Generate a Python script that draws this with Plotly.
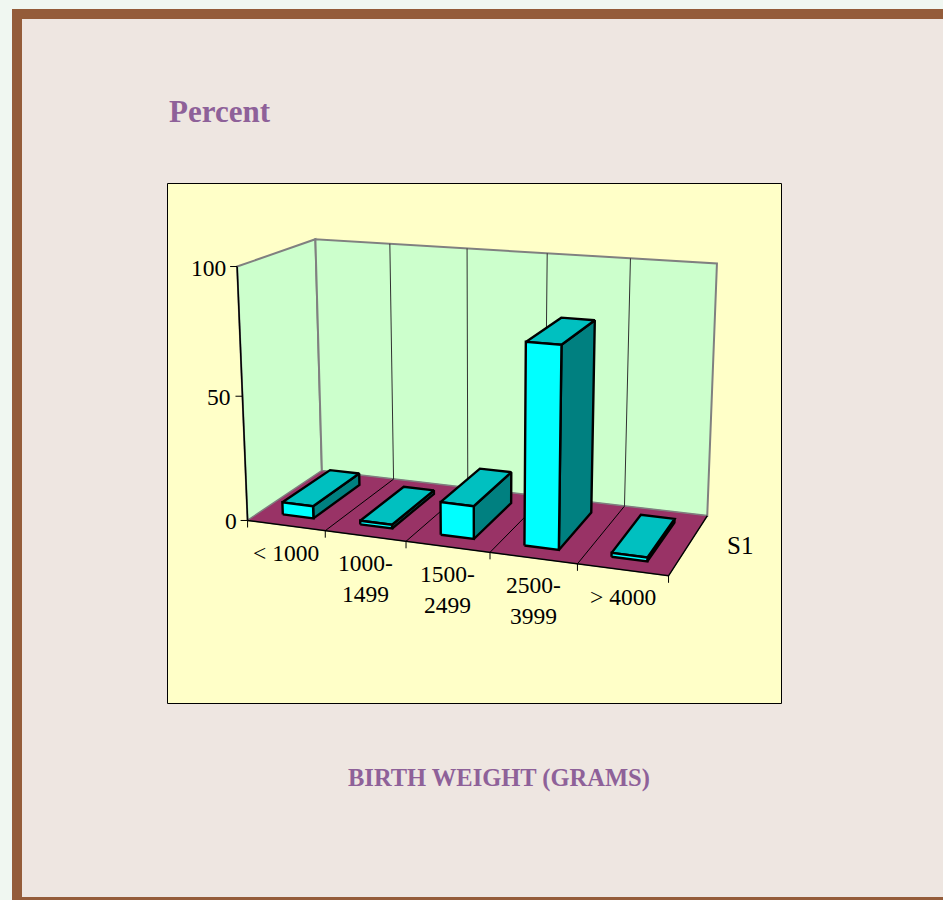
"""Birth weight 3D column chart, drawn on a page sized pair of axes"""
import numpy as np
import plotly.graph_objects as go

# data
categories = ['< 1000', '1000-<br>1499', '1500-<br>2499', '2500-<br>3999', '> 4000']
percent = [5, 1.5, 13, 77.5, 1.5]
value_ticks = [0, 50, 100]
series_name = 'S1'

# colours
PAGE = '#F0F7F1'
BORDER = '#945C3A'
PANEL = '#EEE6E1'
CHART = '#FFFFC8'
WALL = '#CCFFCC'
FLOOR = '#993366'
FRONT = '#00FFFF'
TOP = '#00C0C0'
SIDE = '#008080'
PURPLE = '#8E6199'
FONT = 'Liberation Serif'

# (category pos, depth, value) -> page pixel, used to fit the camera
anchors = [
    (0, 0, 0, 247, 520), (5, 0, 0, 668, 576), (0, 1, 0, 322, 471), (5, 1, 0, 707, 516),
    (0, 0, 100, 237, 267), (0, 1, 100, 315, 239), (5, 1, 100, 717, 263),
    (1, 0, 0, 325, 530), (2, 0, 0, 407, 541), (3, 0, 0, 490, 553), (4, 0, 0, 578, 564),
    (1, 1, 100, 390, 244), (2, 1, 100, 468, 249), (3, 1, 100, 547, 253), (4, 1, 100, 630, 258),
]
rows = []
for u, v, h, px, py in anchors:
    rows.append([u, v, h / 100, 1, 0, 0, 0, 0, -px * u, -px * v, -px * h / 100, -px])
    rows.append([0, 0, 0, 0, u, v, h / 100, 1, -py * u, -py * v, -py * h / 100, -py])
camera = np.linalg.svd(np.array(rows, dtype=float))[2][-1].reshape(3, 4)


def project(u, v, h):
    px, py, w = camera @ np.array([u, v, h / 100, 1.0])
    return px / w, py / w


fig = go.Figure()


def poly(points, fill=None, line='black', width=1.0):
    xy = [project(*p) for p in points]
    xs = [p[0] for p in xy]
    ys = [p[1] for p in xy]
    if fill:
        xs.append(xs[0])
        ys.append(ys[0])
    fig.add_trace(go.Scatter(x=xs, y=ys, mode='lines',
                             fill='toself' if fill else None, fillcolor=fill,
                             line=dict(color=line, width=width, shape='linear'),
                             hoverinfo='skip', showlegend=False))


N = len(categories)
TOPV = max(value_ticks)

# walls and floor
poly([(0, 0, 0), (0, 1, 0), (0, 1, TOPV), (0, 0, TOPV)], fill=WALL, line='#808080', width=2)
poly([(0, 1, 0), (N, 1, 0), (N, 1, TOPV), (0, 1, TOPV)], fill=WALL, line='#808080', width=2)
poly([(0, 0, 0), (N, 0, 0), (N, 1, 0), (0, 1, 0)], fill=FLOOR, line='#808080', width=1)
for i in range(1, N):
    poly([(i, 1, 0), (i, 1, TOPV)], line='#303030', width=1)
    poly([(i, 0, 0), (i, 1, 0)], line='black', width=1)

# axes
poly([(0, 0, 0), (N, 0, 0), (N, 1, 0)], width=1.5)
poly([(0, 0, 0), (0, 0, TOPV)], width=1.5)
for i in range(N + 1):
    x0, y0 = project(i, 0, 0)
    fig.add_trace(go.Scatter(x=[x0, x0], y=[y0, y0 + 7], mode='lines',
                             line=dict(color='black', width=1),
                             hoverinfo='skip', showlegend=False))
for t in value_ticks:
    x0, y0 = project(0, 0, t)
    fig.add_trace(go.Scatter(x=[x0 - 7, x0], y=[y0, y0], mode='lines',
                             line=dict(color='black', width=1),
                             hoverinfo='skip', showlegend=False))
    fig.add_annotation(x=x0 - 9, y=y0 + 1, text=str(t), showarrow=False, xanchor='right',
                       yanchor='middle', font=dict(family=FONT, size=23.5, color='black'))

# bars do not overlap on the page, so left to right is fine
BAR_W = 0.2
BAR_SHIFT = -0.01
V0, V1 = 0.165, 0.82
for i, val in enumerate(percent):
    a, b = i + 0.5 + BAR_SHIFT - BAR_W, i + 0.5 + BAR_SHIFT + BAR_W
    poly([(b, V0, 0), (b, V1, 0), (b, V1, val), (b, V0, val)], fill=SIDE, width=2.4)
    poly([(a, V0, val), (b, V0, val), (b, V1, val), (a, V1, val)], fill=TOP, width=2.4)
    poly([(a, V0, 0), (b, V0, 0), (b, V0, val), (a, V0, val)], fill=FRONT, width=2.4)

# category labels
for i, cat in enumerate(categories):
    x0, y0 = project(i + 0.5, 0, 0)
    fig.add_annotation(x=x0, y=y0 + 12, text=cat, showarrow=False, xanchor='center',
                       yanchor='top', font=dict(family=FONT, size=23.5, color='black'))

x0, y0 = project(N, 0.5, 0)
fig.add_annotation(x=x0 + 51, y=y0 + 1, text=series_name, showarrow=False, xanchor='center',
                   yanchor='middle', font=dict(family=FONT, size=25, color='black'))

fig.add_annotation(x=167, y=111, text='<b>Percent</b>', showarrow=False, xanchor='left',
                   yanchor='middle', font=dict(family=FONT, size=31, color=PURPLE))
fig.add_annotation(x=499, y=778, text='<b>BIRTH WEIGHT (GRAMS)</b>', showarrow=False,
                   xanchor='center', yanchor='middle',
                   font=dict(family=FONT, size=24.5, color=PURPLE))

# layout, the axes map one data unit to one pixel of the page
fig.update_layout(
    width=943, height=900, autosize=False,
    margin=dict(l=0, r=0, t=0, b=0),
    paper_bgcolor=PAGE, plot_bgcolor=PAGE,
    xaxis=dict(range=[0, 943], visible=False, fixedrange=True),
    yaxis=dict(range=[900, 0], visible=False, fixedrange=True),
    shapes=[
        dict(type='rect', layer='below', x0=12, x1=943, y0=9, y1=900, fillcolor=BORDER, line_width=0),
        dict(type='rect', layer='below', x0=22, x1=943, y0=19, y1=897, fillcolor=PANEL, line_width=0),
        dict(type='rect', layer='below', x0=167.5, x1=781.5, y0=183.5, y1=703.5, fillcolor=CHART,
             line=dict(color='black', width=1)),
    ],
)
fig.write_html('out.html', config=dict(displayModeBar=False),
               post_script="document.body.style.margin='0';document.body.style.overflow='hidden';")
